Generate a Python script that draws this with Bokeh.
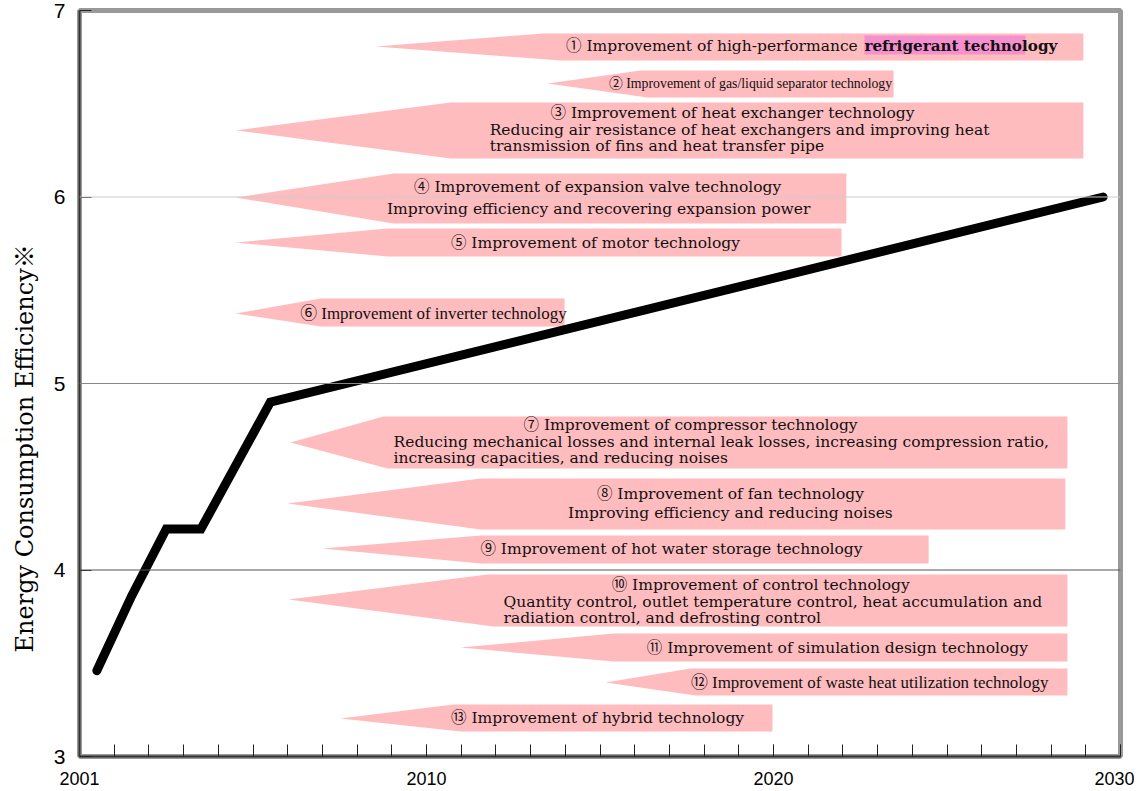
from bokeh.plotting import figure
from bokeh.models import Span, SingleIntervalTicker, FixedTicker, ColumnDataSource
from bokeh.core.properties import value
from bokeh.embed import file_html
from bokeh.resources import INLINE

# ---- data -------------------------------------------------------------
years = [2000.5, 2001.5, 2002.5, 2003.5, 2005.5, 2029.5]
efficiency = [3.46, 3.86, 4.22, 4.22, 4.90, 6.00]

x_tick_labels = {2000: "2001", 2010: "2010", 2020: "2020", 2030: "2030"}
y_ticks = [3, 4, 5, 6, 7]
y_title = "Energy Consumption Efficiency※"

# ---- annotation geometry (data units): tip_x, tip_y, top_end_x, bot_end_x, right_x, top_y, bot_y
arrows = [
    (2008.53, 6.807, 2013.34, 2013.86, 2028.93, 6.877, 6.732),  # 1
    (2013.49, 6.609, 2016.17, 2016.37, 2023.46, 6.678, 6.534),  # 2
    (2004.52, 6.357, 2010.69, 2010.69, 2028.93, 6.507, 6.206),  # 3
    (2004.50, 5.997, 2009.05, 2009.05, 2022.10, 6.126, 5.858),  # 4
    (2004.50, 5.756, 2008.88, 2008.88, 2021.96, 5.831, 5.681),  # 5
    (2004.50, 5.375, 2006.95, 2006.95, 2013.98, 5.456, 5.306),  # 6
    (2006.08, 4.684, 2008.76, 2008.88, 2028.47, 4.823, 4.544),  # 7
    (2005.99, 4.357, 2011.56, 2011.56, 2028.41, 4.491, 4.217),  # 8
    (2007.00, 4.115, 2011.56, 2011.56, 2024.47, 4.185, 4.035),  # 9
    (2006.02, 3.842, 2011.76, 2011.93, 2028.47, 3.976, 3.697),  # 10
    (2010.98, 3.584, 2015.39, 2015.39, 2028.47, 3.660, 3.509),  # 11
    (2015.16, 3.397, 2017.61, 2017.75, 2028.47, 3.472, 3.327),  # 12
    (2007.52, 3.204, 2010.78, 2010.98, 2019.97, 3.279, 3.134),  # 13
]

# text entries: x, y, text, align, style
texts = [
    (2022.57, 6.807, "① Improvement of high-performance ", "right", "main"),
    (2022.62, 6.807, "refrigerant technology", "left", "bold"),
    (2019.34, 6.609, "② Improvement of gas/liquid separator technology", "center", "narrow"),
    (2018.82, 6.448, "③ Improvement of heat exchanger technology", "center", "main"),
    (2011.82, 6.357, "Reducing air resistance of heat exchangers and improving heat", "left", "main"),
    (2011.82, 6.271, "transmission of fins and heat transfer pipe", "left", "main"),
    (2014.93, 6.051, "④ Improvement of expansion valve technology", "center", "main"),
    (2014.96, 5.933, "Improving efficiency and recovering expansion power", "center", "main"),
    (2014.87, 5.756, "⑤ Improvement of motor technology", "center", "main"),
    (2010.20, 5.375, "⑥ Improvement of inverter technology", "center", "times"),
    (2017.61, 4.775, "⑦ Improvement of compressor technology", "center", "main"),
    (2009.05, 4.689, "Reducing mechanical losses and internal leak losses, increasing compression ratio,", "left", "main"),
    (2009.05, 4.603, "increasing capacities, and reducing noises", "left", "main"),
    (2018.76, 4.410, "⑧ Improvement of fan technology", "center", "main"),
    (2018.76, 4.303, "Improving efficiency and reducing noises", "center", "main"),
    (2017.06, 4.110, "⑨ Improvement of hot water storage technology", "center", "main"),
    (2019.63, 3.917, "⑩ Improvement of control technology", "center", "main"),
    (2012.22, 3.826, "Quantity control, outlet temperature control, heat accumulation and", "left", "main"),
    (2012.22, 3.745, "radiation control, and defrosting control", "left", "main"),
    (2021.84, 3.584, "⑪ Improvement of simulation design technology", "center", "main"),
    (2022.77, 3.397, "⑫ Improvement of waste heat utilization technology", "center", "times"),
    (2014.93, 3.204, "⑬ Improvement of hybrid technology", "center", "main"),
]

CJK = "'Noto Sans CJK JP'"
styles = {
    "main": dict(font="'DejaVu Serif', " + CJK, size="15.5px", style="normal"),
    "bold": dict(font="'DejaVu Serif', " + CJK, size="15.2px", style="bold"),
    "narrow": dict(font="'Liberation Serif', " + CJK, size="13.8px", style="normal"),
    "times": dict(font="'Liberation Serif', " + CJK, size="16.9px", style="normal"),
}

# ---- figure -----------------------------------------------------------
p = figure(frame_width=1041, frame_height=746, x_range=(2000, 2030), y_range=(3, 7),
           output_backend="svg", toolbar_location=None,
           min_border_left=79, min_border_right=14, min_border_top=10, min_border_bottom=34)
p.background_fill_color = "white"
p.border_fill_color = "white"
p.xgrid.visible = False
p.ygrid.visible = False
p.outline_line_color = "#999999"
p.outline_line_width = 5

for lvl, col in [(4, "#555555"), (5, "#888888"), (6, "#cccccc")]:
    p.add_layout(Span(location=lvl, dimension="width", line_color=col, line_width=1))

# pink arrows
xs, ys = [], []
for tx, ty, ax, bx, rx, top, bot in arrows:
    xs.append([tx, ax, rx, rx, bx])
    ys.append([ty, top, top, bot, bot])
p.patches(xs, ys, fill_color="#ffbcbf", line_color=None)

# magenta highlight behind "refrigerant technology"
p.quad(left=[2022.62], right=[2027.26], top=[6.866], bottom=[6.764],
       fill_color="#f590cf", line_color=None)

# texts
groups = {}
for x, y, t, al, st in texts:
    groups.setdefault((st, al), []).append((x, y, t))
for (st, al), items in groups.items():
    s = styles[st]
    src = ColumnDataSource(dict(x=[i[0] for i in items], y=[i[1] for i in items],
                                t=[i[2] for i in items]))
    p.text(x="x", y="y", text="t", source=src, text_align=al, text_baseline="middle",
           text_font=value(s["font"]), text_font_size=s["size"], text_font_style=s["style"],
           text_color="#111111")

# the main line
p.line(years, efficiency, line_width=9, line_color="black", line_cap="round", line_join="miter")

# axes
xa = p.xaxis[0]
xa.ticker = SingleIntervalTicker(interval=10, num_minor_ticks=10)
xa.major_label_overrides = x_tick_labels
xa.major_tick_in = 12
xa.major_tick_out = 0
xa.minor_tick_in = 12
xa.minor_tick_out = 0
xa.major_label_standoff = 15
xa.major_label_text_font = "Liberation Sans"
xa.major_label_text_font_size = "18px"
xa.major_label_text_color = "black"

ya = p.yaxis[0]
ya.ticker = FixedTicker(ticks=y_ticks)
ya.major_tick_in = 12
ya.major_tick_out = 0
ya.minor_tick_in = 0
ya.minor_tick_out = 0
ya.major_label_standoff = 14
ya.major_label_text_font = "Liberation Sans"
ya.major_label_text_font_size = "21px"
ya.major_label_text_color = "black"
ya.axis_label = y_title + "\u00a0" * 17
ya.axis_label_text_font = "'DejaVu Serif', " + CJK
ya.axis_label_text_font_size = "24px"
ya.axis_label_text_font_style = "normal"
ya.axis_label_text_color = "black"
ya.axis_label_standoff = 12

for ax in (xa, ya):
    ax.axis_line_color = "#333333"
    ax.axis_line_width = 2
    ax.major_tick_line_color = "#222222"
    ax.minor_tick_line_color = "#222222"

open("out.html", "w").write(file_html(p, INLINE))
